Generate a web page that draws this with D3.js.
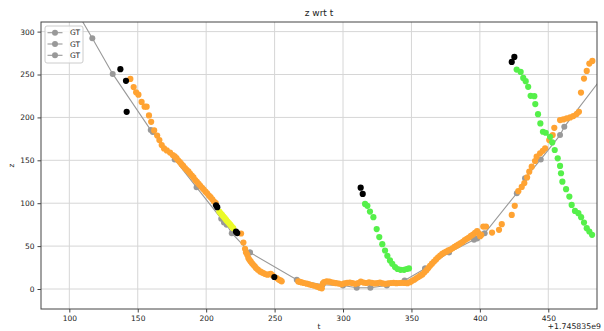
<!DOCTYPE html>
<html>
<head>
<meta charset="utf-8">
<script src="https://cdn.jsdelivr.net/npm/d3@7"></script>
<style>
  body { margin: 0; background: #fff; }
  text { font-family: "DejaVu Sans", sans-serif; fill: #222; }
</style>
</head>
<body>
<div id="chart"></div>
<script>
// ground truth track, split in three pieces (t offset from 1.745835e9, z)
const gt1 = [[103, 330], [116.8, 292.2], [131.7, 250.7], [159.5, 185.2], [161, 183], [177, 151], [193, 118.5],
    [211, 82], [213, 77.5], [215, 75], [218.7, 65], [232, 42.6]];
const gt2 = [[232, 42.6], [266.2, 10.8], [285, 5], [300, 4], [310, 1.5], [320, 1.5], [332, 4], [345, 10], [360, 24]];
const gt3 = [[360, 24], [377.5, 42.6], [395.7, 57.3], [398, 59], [403.5, 65], [427, 111.6], [433, 129],
    [444.5, 151], [458.6, 179.4], [461.7, 189], [492, 252]];

const orangePts = [
    [144.6, 244.8], [147, 235.3], [148.8, 229.2], [150.5, 226.5], [152.8, 218.1], [155, 212.5], [156.5, 212.5],
    [158.2, 202.3], [159.8, 194.9], [162, 184.8], [164.2, 178.8], [165.8, 173.6], [167.5, 167.8], [169.2, 163.9],
    [171.2, 161.5], [173.6, 159], [175.6, 156.2], [177, 154.5], [178.3, 152.5], [179.5, 150], [180.8, 148],
    [182, 145.5], [183.2, 143.5], [184.5, 141], [185.7, 139], [187, 137], [188.2, 134.5], [189.5, 132.3],
    [190.7, 130], [192, 127], [193.2, 125], [194.5, 122.5], [195.7, 120.3], [197, 118], [198.2, 116],
    [199.5, 113.5], [200.7, 111.5], [202, 109], [203.2, 107], [204.5, 104.5], [205.7, 102], [207, 100],
    [225.5, 64.7], [227.2, 54.2], [228.4, 46.9], [229.1, 42.6], [230, 40], [230.8, 36], [231.6, 34],
    [232.5, 32.1], [233.5, 30], [234.5, 28.3], [235.5, 26.5], [236.4, 24.4], [237.8, 22.5], [239.4, 20.5],
    [240.6, 19.5], [241.8, 18.6], [243.2, 17.5], [244.7, 16.6], [246, 17.2], [247.2, 17.8], [248.5, 16],
    [251.5, 12.8], [253, 11], [254.3, 10], [255.2, 9],
    [267.3, 8.8], [268.5, 8.2], [269.8, 7.7], [271.5, 7], [273.5, 6.2], [275.3, 5.5], [277.1, 4.7], [279, 3.8],
    [280.8, 3], [282, 2.2], [283.2, 1.5], [284.5, 0.8], [285.3, 6.5], [286.2, 8], [288.1, 8.8], [290, 8.5],
    [291.8, 7.8], [293.5, 7.2], [295, 6.8], [297, 6.3], [299, 5.5], [301, 6.5], [303, 7.2], [305, 7.5],
    [307, 6.8], [309, 6], [311, 6.8], [313, 8.5], [315, 7.5], [317, 7], [319, 7.8], [321, 7.2], [323, 6.5],
    [325, 6.8], [327, 7.5], [329, 6.5], [331, 6], [333, 6.5], [335, 7], [337, 7.2], [339, 6.8], [341, 7],
    [343, 7.2], [345, 7], [347, 6.8], [349, 8], [350.5, 9.5], [352, 10.8], [353.5, 12.5], [355, 14],
    [356.5, 15.5], [358, 17], [359.5, 19.5], [361, 22], [362.3, 24.5], [363.6, 27], [365, 29.5], [366.5, 32],
    [368, 34.5], [369.5, 37], [371, 39], [372.5, 41], [374, 42.5], [375.5, 43.5], [377, 45], [378.5, 46],
    [380, 47.5], [381.5, 49], [383, 50.5], [384.5, 52], [386, 53.5], [387.5, 55], [389, 57], [390.5, 58.5],
    [392, 60], [393.5, 62], [395, 63.5], [396.5, 65.5], [398, 67.5], [399.2, 65], [400.2, 61.5], [401, 63],
    [402.5, 72.8], [404.5, 72.8], [408.9, 65.8], [414, 69], [416, 75.6], [423.3, 86.4], [425.5, 96.9],
    [428.1, 114], [430.6, 119], [432.5, 123.5], [434.5, 130], [436.1, 136.8], [437.9, 142.6], [440.3, 149.2],
    [441.5, 154.2], [444, 158.1], [446, 161], [447.7, 164], [450.7, 173.6], [453.2, 179.4], [454.4, 187.9],
    [458.6, 196.9], [461, 197.7], [463.5, 198.8], [466, 200], [468.3, 201.5], [470.7, 203.9], [472.4, 206.5],
    [473.9, 229], [476.1, 245.3], [478.1, 254.2], [480, 262.8], [482.2, 265.8]
];

const yellowPts = [[209.6, 90.2], [210.6, 88.3], [211.6, 86.4], [212.6, 84.5], [213.6, 82.5], [214.6, 80.5],
    [215.6, 78.6], [216.6, 76.8], [217.6, 75], [218.6, 73], [219.8, 70.9]];

const blackPts = [[137.3, 256.2], [141.4, 242.6], [141.9, 206.5], [207.2, 97.5], [208.1, 95.4], [221.8, 66.8],
    [222.7, 65.2], [249.8, 14], [312.9, 118.1], [314.4, 110.8], [423.3, 264.7], [425.2, 270.5]];

const greenPts1 = [[316.1, 99.2], [317.8, 96.9], [319.7, 90.2], [322.2, 83.7], [324.6, 69.8], [326.5, 60.5],
    [328.7, 52.3], [330.7, 44.9], [332.4, 38.7], [334.3, 33.3], [336, 29.4], [338, 25.6], [339.9, 23.3],
    [342.1, 22.4], [344.6, 22.4], [346.5, 23.3], [348.2, 24]];
const greenPts2 = [[426.9, 255.8], [429.8, 253], [431.7, 246], [433.5, 242.2], [435.3, 235.6], [437.1, 225.1],
    [439.8, 224.8], [440.5, 215.5], [442.5, 203.8], [444.2, 193], [446.1, 183.3], [448.1, 182.1], [451.3, 177.4],
    [452.9, 170.9], [454.7, 162], [456.9, 152.3], [458.6, 143.4], [459.3, 134.9], [460.3, 125.1], [463, 116.3],
    [465.4, 107.7], [467.1, 98], [469.5, 91], [472, 88.4], [474, 83.7], [476.1, 77.4], [478.1, 70.9],
    [480, 67], [482, 63.1]];

const xTicks = [100, 150, 200, 250, 300, 350, 400, 450];
const yTicks = [0, 50, 100, 150, 200, 250, 300];
const legendLabels = ["GT", "GT", "GT"];

const width = 604, height = 331;
const plot = {left: 41, right: 597, top: 22, bottom: 309};

const x = d3.scaleLinear().domain([79.3, 485.6]).range([plot.left, plot.right]);
const y = d3.scaleLinear().domain([-23.3, 311.2]).range([plot.bottom, plot.top]);

const svg = d3.select("#chart").append("svg")
    .attr("width", width)
    .attr("height", height);

svg.append("defs").append("clipPath")
    .attr("id", "clip")
    .append("rect")
    .attr("x", plot.left).attr("y", plot.top)
    .attr("width", plot.right - plot.left).attr("height", plot.bottom - plot.top);

// grid
svg.append("g").selectAll("line").data(xTicks).enter().append("line")
    .attr("x1", d => x(d)).attr("x2", d => x(d))
    .attr("y1", plot.top).attr("y2", plot.bottom)
    .attr("stroke", "#d6d6d6").attr("stroke-width", 1);
svg.append("g").selectAll("line").data(yTicks).enter().append("line")
    .attr("x1", plot.left).attr("x2", plot.right)
    .attr("y1", d => y(d)).attr("y2", d => y(d))
    .attr("stroke", "#d6d6d6").attr("stroke-width", 1);

const body = svg.append("g").attr("clip-path", "url(#clip)");

// GT lines + markers
[gt1, gt2, gt3].forEach(seg => {
    body.append("path")
        .datum(seg)
        .attr("fill", "none")
        .attr("stroke", "#999")
        .attr("stroke-width", 1.1)
        .attr("d", d3.line().x(d => x(d[0])).y(d => y(d[1])));
    body.append("g").selectAll("circle").data(seg).enter().append("circle")
        .attr("cx", d => x(d[0])).attr("cy", d => y(d[1]))
        .attr("r", 3).attr("fill", "#999");
});

function dots(data, color) {
    body.append("g").selectAll("circle").data(data).enter().append("circle")
        .attr("cx", d => x(d[0])).attr("cy", d => y(d[1]))
        .attr("r", 3.1).attr("fill", color);
}
dots(orangePts, "#ffa333");
dots(yellowPts, "#ebfa28");
dots(blackPts, "#000");
dots(greenPts1, "#55f04a");
dots(greenPts2, "#55f04a");

// axes frame
svg.append("rect")
    .attr("x", plot.left).attr("y", plot.top)
    .attr("width", plot.right - plot.left).attr("height", plot.bottom - plot.top)
    .attr("fill", "none").attr("stroke", "#444").attr("stroke-width", 1);

const xAxis = svg.append("g")
    .attr("transform", `translate(0,${plot.bottom})`)
    .call(d3.axisBottom(x).tickValues(xTicks).tickSize(3.5).tickPadding(3));
const yAxis = svg.append("g")
    .attr("transform", `translate(${plot.left},0)`)
    .call(d3.axisLeft(y).tickValues(yTicks).tickSize(3.5).tickPadding(3));
[xAxis, yAxis].forEach(a => {
    a.select(".domain").remove();
    a.selectAll("line").attr("stroke", "#444");
    a.selectAll("text").attr("font-size", 7.5).attr("font-family", "DejaVu Sans").attr("fill", "#222");
});

svg.append("text")
    .attr("x", (plot.left + plot.right) / 2).attr("y", 16)
    .attr("text-anchor", "middle").attr("font-size", 9)
    .text("z wrt t");

svg.append("text")
    .attr("x", (plot.left + plot.right) / 2).attr("y", 329)
    .attr("text-anchor", "middle").attr("font-size", 7.5)
    .text("t");

svg.append("text")
    .attr("transform", `translate(14,${(plot.top + plot.bottom) / 2}) rotate(-90)`)
    .attr("text-anchor", "middle").attr("font-size", 7.5)
    .text("z");

svg.append("text")
    .attr("x", 601).attr("y", 329)
    .attr("text-anchor", "end").attr("font-size", 7.8)
    .text("+1.745835e9");

// legend
const legend = svg.append("g").attr("transform", "translate(45,26)");
legend.append("rect")
    .attr("width", 38).attr("height", 37).attr("rx", 2)
    .attr("fill", "#fff").attr("fill-opacity", 0.8)
    .attr("stroke", "#ccc");
const item = legend.selectAll(".item").data(legendLabels).enter().append("g")
    .attr("class", "item")
    .attr("transform", (d, i) => `translate(0,${6.7 + i * 11.3})`);
item.append("line").attr("x1", 2.5).attr("x2", 17.5).attr("stroke", "#999").attr("stroke-width", 1.1);
item.append("circle").attr("cx", 10).attr("r", 3).attr("fill", "#999");
item.append("text").attr("x", 25).attr("dy", "0.35em").attr("font-size", 7.5).text(d => d);
</script>
</body>
</html>
